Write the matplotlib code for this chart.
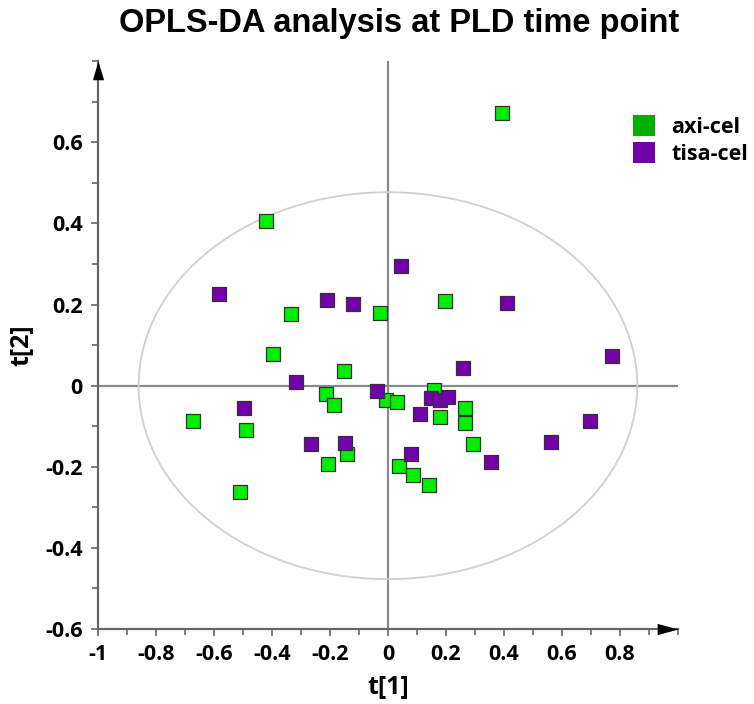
import numpy as np
import matplotlib
matplotlib.use('Agg')
import matplotlib.pyplot as plt
from matplotlib.patches import Ellipse, Patch
from matplotlib.ticker import MultipleLocator

# scores t[1], t[2] for each group
axi_t1 = [0.394, -0.419, -0.336, -0.028, 0.197, -0.398, -0.152, -0.671, -0.491, -0.509,
          -0.215, -0.187, -0.207, -0.142, -0.007, 0.031, 0.159, 0.180, 0.266, 0.266,
          0.294, 0.038, 0.087, 0.142]
axi_t2 = [0.672, 0.407, 0.178, 0.180, 0.210, 0.079, 0.035, -0.086, -0.109, -0.262,
          -0.020, -0.047, -0.192, -0.168, -0.035, -0.039, -0.010, -0.077, -0.055, -0.092,
          -0.144, -0.198, -0.220, -0.244]

tisa_t1 = [-0.581, -0.211, -0.121, 0.045, 0.412, 0.260, 0.772, -0.318, -0.498, -0.266,
           -0.149, -0.039, 0.148, 0.180, 0.208, 0.111, 0.080, 0.356, 0.561, 0.696]
tisa_t2 = [0.227, 0.212, 0.202, 0.296, 0.205, 0.044, 0.074, 0.010, -0.054, -0.143,
           -0.141, -0.014, -0.031, -0.035, -0.027, -0.071, -0.169, -0.187, -0.139, -0.088]

# Hotelling T2 ellipse semi-axes
ell_a = 0.86
ell_b = 0.477

tick_font = {'family': 'Open Sans', 'weight': 'bold', 'size': 15.5}

fig = plt.figure(figsize=(7.54, 7.04), dpi=100)
ax = fig.add_axes([0.130, 0.1065, 0.769, 0.8065])

ax.set_xlim(-1, 1)
ax.set_ylim(-0.6, 0.8)

ax.axhline(0, color='#8a8a8a', lw=1.6, zorder=1)
ax.axvline(0, color='#8a8a8a', lw=1.6, zorder=1)
ax.add_patch(Ellipse((0, 0), 2*ell_a, 2*ell_b, fill=False, edgecolor='#d0d0d0', lw=1.3, zorder=1))

ax.scatter(axi_t1, axi_t2, marker='s', s=92, c='#00ee00', edgecolors='#333333', linewidths=0.9, zorder=3)
ax.scatter(tisa_t1, tisa_t2, marker='s', s=92, c='#7300ab', edgecolors='#333333', linewidths=0.9, zorder=3)

for s in ['top', 'right']:
    ax.spines[s].set_visible(False)
for s in ['left', 'bottom']:
    ax.spines[s].set_color('#666666')
    ax.spines[s].set_linewidth(1.6)

# arrow heads with their tips at the ends of the axes
up_head = [(0, 0), (-0.3, -1), (0.3, -1), (0, 0)]
right_head = [(0, 0), (-1, 0.27), (-1, -0.27), (0, 0)]
ax.plot(1, 0, marker=right_head, color='k', mec='k', mew=0, ms=30, transform=ax.transAxes,
        clip_on=False, zorder=5)
ax.plot(0, 1, marker=up_head, color='k', mec='k', mew=0, ms=27, transform=ax.transAxes,
        clip_on=False, zorder=5)

ax.xaxis.set_major_locator(MultipleLocator(0.2))
ax.xaxis.set_minor_locator(MultipleLocator(0.1))
ax.yaxis.set_major_locator(MultipleLocator(0.2))
ax.yaxis.set_minor_locator(MultipleLocator(0.1))
ax.tick_params(which='both', direction='out', color='#666666', width=1.2)
ax.tick_params(which='major', length=5, pad=6)
ax.tick_params(which='minor', length=4)

xt = [-1, -0.8, -0.6, -0.4, -0.2, 0, 0.2, 0.4, 0.6, 0.8]
yt = [-0.6, -0.4, -0.2, 0, 0.2, 0.4, 0.6]
ax.set_xticks(xt)
ax.set_xticklabels(['%g' % v for v in xt], fontdict=tick_font)
ax.set_yticks(yt)
ax.set_yticklabels(['%g' % v for v in yt], fontdict=tick_font)

ax.set_xlabel('t[1]', fontdict=tick_font, fontsize=18, labelpad=7)
ax.set_ylabel('t[2]', fontdict=tick_font, fontsize=18, labelpad=8)

fig.text(0.529, 0.966, 'OPLS-DA analysis at PLD time point', ha='center', va='center',
         fontfamily='Liberation Sans', fontweight='bold', fontsize=23.5)

handles = [Patch(facecolor='#00b000', edgecolor='none', label='axi-cel'),
           Patch(facecolor='#7000aa', edgecolor='none', label='tisa-cel')]
leg = ax.legend(handles=handles, loc='upper left', bbox_to_anchor=(0.922, 0.905), frameon=False,
                prop={'family': 'Open Sans', 'weight': 'bold', 'size': 15.5},
                handlelength=1.05, handleheight=1.1, handletextpad=0.75, labelspacing=0.2,
                borderaxespad=0, borderpad=0)

fig.savefig('out.png', dpi=100)
